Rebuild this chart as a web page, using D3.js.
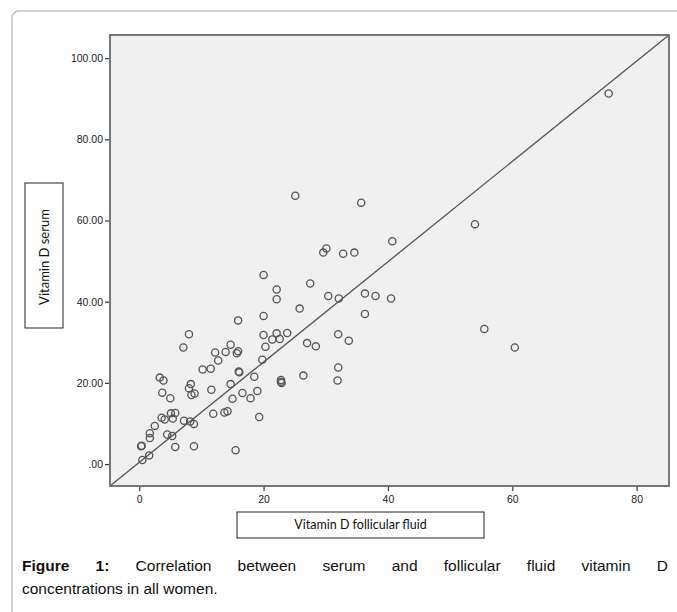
<!DOCTYPE html>
<html>
<head>
<meta charset="utf-8">
<script src="https://cdn.jsdelivr.net/npm/d3@7"></script>
<style>
  html, body { margin: 0; padding: 0; background: #fff; }
  #wrap { position: relative; width: 677px; height: 612px; overflow: hidden; }
  .cap { position: absolute; left: 22px; width: 646px; font-family: "Liberation Sans", Arial, sans-serif; font-size: 15.5px; line-height: 20px; color: #111; white-space: nowrap; }
  #cap1 { top: 556px; text-align: justify; text-align-last: justify; white-space: normal; }
  #cap2 { top: 579px; }
</style>
</head>
<body>
<div id="wrap">
<svg id="chart" width="677" height="612"></svg>
<div class="cap" id="cap1"><b>Figure 1:</b> Correlation between serum and follicular fluid vitamin D</div>
<div class="cap" id="cap2">concentrations in all women.</div>
</div>
<script>
// Follicular fluid vitamin D (x) and serum vitamin D (y)
const follicular = [
  75.5, 25.1, 35.7, 54.0, 40.7, 30.1, 29.6, 32.8, 34.6,
  20.0, 22.1, 22.1, 27.5, 30.4, 32.1, 36.3, 38.0, 40.5, 25.8, 36.3,
  20.0, 15.9, 20.0, 21.4, 22.1, 22.6, 23.8, 20.3, 27.0, 28.4, 32.0, 33.7, 55.5, 60.4,
  8.0, 7.1, 12.2, 12.7, 13.9, 14.7, 15.9, 15.7, 19.8,
  10.2, 11.5, 16.0, 16.1, 3.3, 3.9, 18.5, 26.4, 32.0, 31.9,
  22.8, 22.9, 22.8, 8.3, 8.0, 8.4, 8.9, 3.7, 5.0, 11.6, 14.7, 15.0, 16.6, 17.9, 19.0,
  11.9, 13.7, 14.2, 19.3, 3.6, 4.1, 5.1, 5.4, 5.8, 7.2, 8.2, 8.8, 2.5,
  1.7, 1.7, 4.5, 5.3, 0.3, 0.4, 5.8, 8.8, 15.5, 0.5, 1.6
];
const serum = [
  91.3, 66.1, 64.4, 59.1, 54.9, 53.1, 52.1, 51.8, 52.1,
  46.6, 43.0, 40.6, 44.5, 41.4, 40.8, 42.0, 41.4, 40.8, 38.3, 37.0,
  36.5, 35.4, 31.8, 30.7, 32.2, 30.8, 32.3, 28.9, 29.8, 29.0, 32.0, 30.4, 33.3, 28.7,
  32.0, 28.7, 27.5, 25.5, 27.6, 29.4, 27.8, 27.3, 25.7,
  23.3, 23.5, 22.8, 22.6, 21.3, 20.6, 21.5, 21.8, 23.8, 20.6,
  20.7, 20.0, 20.3, 19.7, 18.7, 17.0, 17.4, 17.6, 16.2, 18.3, 19.7, 16.1, 17.5, 16.2, 18.0,
  12.4, 12.7, 13.0, 11.6, 11.4, 11.0, 12.5, 11.2, 12.6, 10.7, 10.5, 9.9, 9.4,
  7.6, 6.4, 7.3, 6.9, 4.4, 4.5, 4.2, 4.4, 3.4, 1.0, 2.1
];
const xTicks = [0, 20, 40, 60, 80];
const xTickLabels = ["0", "20", "40", "60", "80"];
const yTicks = [0, 20, 40, 60, 80, 100];
const yTickLabels = [".00", "20.00", "40.00", "60.00", "80.00", "100.00"];
const xDomain = [-4.7, 85.2];
const yDomain = [-5.4, 105.7];
const xTitle = "Vitamin D follicular fluid";
const yTitle = "Vitamin D serum";

const svg = d3.select("#chart");
const L = 110, R = 669, T = 35, B = 486;
const x = d3.scaleLinear().domain(xDomain).range([L, R]);
const y = d3.scaleLinear().domain(yDomain).range([B, T]);

// outer rounded panel border
svg.append("rect").attr("x", 12).attr("y", 11).attr("width", 700).attr("height", 640)
  .attr("rx", 7).attr("fill", "none").attr("stroke", "#c4c4c4").attr("stroke-width", 1.5);

// plot background
svg.append("rect").attr("x", L).attr("y", T).attr("width", R - L).attr("height", B - T)
  .attr("fill", "#f0f0f0");

// axes
const yAxis = d3.axisLeft(y).tickValues(yTicks).tickFormat((d, i) => yTickLabels[i]).tickSize(5).tickPadding(2);
const gy = svg.append("g").attr("transform", `translate(${L},0)`).call(yAxis);
const xAxis = d3.axisBottom(x).tickValues(xTicks).tickFormat((d, i) => xTickLabels[i]).tickSize(5).tickPadding(5);
const gx = svg.append("g").attr("transform", `translate(0,${B})`).call(xAxis);
[gx, gy].forEach(g => {
  g.select(".domain").remove();
  g.selectAll(".tick line").attr("stroke", "#444").attr("stroke-width", 1.3);
  g.selectAll(".tick text").attr("fill", "#222")
    .style("font-family", "'Liberation Sans', Arial, sans-serif").style("font-size", "10.5px");
});

// reference line corner to corner
svg.append("line")
  .attr("x1", x(xDomain[0])).attr("y1", y(yDomain[0]))
  .attr("x2", x(xDomain[1])).attr("y2", y(yDomain[1]))
  .attr("stroke", "#555").attr("stroke-width", 1.3);

// points
const pts = follicular.map((v, i) => ({ fx: v, sv: serum[i] }));
svg.append("g").selectAll("circle").data(pts).join("circle")
  .attr("cx", d => x(d.fx)).attr("cy", d => y(d.sv)).attr("r", 3.6)
  .attr("fill", "none").attr("stroke", "#555").attr("stroke-width", 1.3);

// frame
svg.append("rect").attr("x", L).attr("y", T).attr("width", R - L).attr("height", B - T)
  .attr("fill", "none").attr("stroke", "#6a6a6a").attr("stroke-width", 1.8);

// y title box
svg.append("rect").attr("x", 25).attr("y", 183).attr("width", 38).attr("height", 145)
  .attr("fill", "#fff").attr("stroke", "#222").attr("stroke-width", 1);
svg.append("text").attr("transform", "translate(44,257) rotate(-90)")
  .attr("text-anchor", "middle").attr("dy", "0.35em")
  .style("font-family", "Lato, 'Open Sans', sans-serif").style("font-size", "13px").attr("fill", "#111")
  .text(yTitle);

// x title box
svg.append("rect").attr("x", 237).attr("y", 512).attr("width", 247).attr("height", 26)
  .attr("fill", "#fff").attr("stroke", "#222").attr("stroke-width", 1);
svg.append("text").attr("x", 360.5).attr("y", 525).attr("text-anchor", "middle").attr("dy", "0.35em")
  .style("font-family", "Lato, 'Open Sans', sans-serif").style("font-size", "12.5px").attr("fill", "#111")
  .text(xTitle);
</script>
</body>
</html>
